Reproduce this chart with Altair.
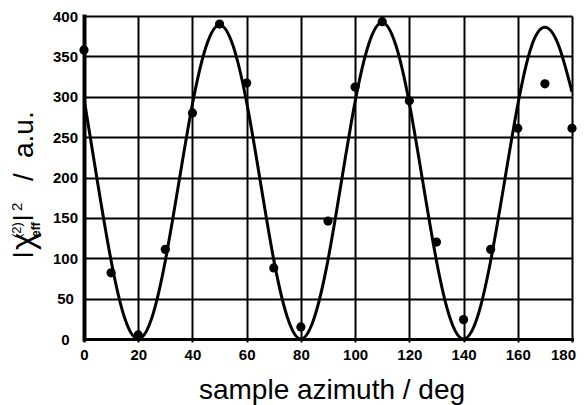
import altair as alt
import pandas as pd

# measured data points
angles = [0, 10, 20, 30, 40, 50, 60, 70, 80, 90, 100, 110, 120, 130, 140, 150, 160, 170, 180]
intensity = [358, 82, 5, 111, 280, 390, 317, 88, 15, 146, 312, 393, 295, 120, 24, 111, 261, 316, 261]

# fitted curve, every 5 deg
fit_angles = [0, 5, 10, 15, 20, 25, 30, 35, 40, 45, 50, 55, 60, 65, 70, 75, 80, 85, 90,
              95, 100, 105, 110, 115, 120, 125, 130, 135, 140, 145, 150, 155, 160, 165, 170, 175, 180]
fit_values = [298, 194, 97, 26, 0, 26, 97, 194, 291, 362, 389, 363, 293, 196, 98, 27, 0, 27, 98,
              196, 294, 365, 392, 364, 292, 194, 97, 26, 0, 26, 97, 193, 290, 362, 386, 364, 306]

x_ticks = list(range(0, 181, 20))
y_ticks = list(range(0, 401, 50))

W, H = 488, 323
FONT = "Liberation Sans"

pts = pd.DataFrame({"angle": angles, "I": intensity})
fit = pd.DataFrame({"angle": fit_angles, "I": fit_values})

xs = alt.Scale(domain=[0, 180], nice=False, zero=False)
ys = alt.Scale(domain=[0, 400], nice=False)

xax = alt.Axis(values=x_ticks, title=None, grid=True, gridColor="black", gridWidth=2, gridOpacity=1,
               domainColor="black", domainWidth=3, domainCap="square",
               ticks=True, tickSize=3, tickWidth=2, tickColor="black",
               labelFont=FONT, labelFontWeight="bold", labelFontSize=15, labelColor="black",
               labelPadding=5, labelFlush=False,
               labelOffset={"condition": {"test": "datum.value === 180", "value": -9}, "value": 0})
yax = alt.Axis(values=y_ticks, title=None, grid=True, gridColor="black", gridWidth=2, gridOpacity=1,
               domainColor="black", domainWidth=4, domainCap="square", ticks=False,
               labelFont=FONT, labelFontWeight="bold", labelFontSize=15, labelColor="black",
               labelAlign="center", labelPadding=19, labelFlush=False)

line = alt.Chart(fit).mark_line(color="black", strokeWidth=3, interpolate="natural", clip=True).encode(
    x=alt.X("angle:Q", scale=xs, axis=xax),
    y=alt.Y("I:Q", scale=ys, axis=yax),
)
dots = alt.Chart(pts).mark_circle(color="black", opacity=1, size=85).encode(
    x=alt.X("angle:Q", scale=xs),
    y=alt.Y("I:Q", scale=ys),
)

one = alt.Data(values=[{}])


def txt(s, x, y, size, align="left", weight="normal", angle=270, baseline="alphabetic"):
    return alt.Chart(one).mark_text(
        text=s, font=FONT, fontSize=size, fontWeight=weight, align=align, baseline=baseline,
        angle=angle, color="black"
    ).encode(x=alt.value(x), y=alt.value(y))


ytitle = [
    txt("l", -51, 242, 28),
    txt("χ", -50, 234, 33),
    txt("(2)", -63, 222, 13),
    txt("eff", -44, 221, 12, weight="bold"),
    txt("l", -51, 205, 28),
    txt("2", -62, 195, 15),
    txt("/", -51, 161, 28, align="center"),
    txt("a.u.", -51, 142, 28),
]
xtitle = txt("sample azimuth / deg", 248, 383, 28, align="center", angle=0)

chart = alt.layer(line, dots, *ytitle, xtitle).properties(
    width=W, height=H,
    autosize=alt.AutoSizeParams(type="none"),
    padding={"left": 76, "top": 8, "right": 5, "bottom": 66},
).configure_view(stroke="black", strokeWidth=3).configure(background="white")

chart.save("out.html", embed_options={"renderer": "svg", "actions": False})
